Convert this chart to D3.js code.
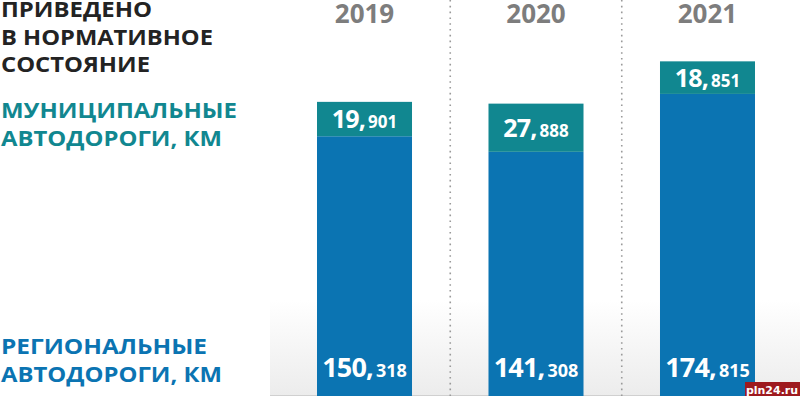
<!DOCTYPE html>
<html>
<head>
<meta charset="utf-8">
<script src="https://cdn.jsdelivr.net/npm/d3@7"></script>
<style>
  html, body { margin: 0; padding: 0; background: #fff; }
  svg { display: block; }
</style>
</head>
<body>
<script>
// data
var years = ["2019", "2020", "2021"];
var regional = [150.318, 141.308, 174.815];
var municipal = [19.901, 27.888, 18.851];

var titleLines = ["ПРИВЕДЕНО", "В НОРМАТИВНОЕ", "СОСТОЯНИЕ"];
var municipalLines = ["МУНИЦИПАЛЬНЫЕ", "АВТОДОРОГИ, КМ"];
var regionalLines = ["РЕГИОНАЛЬНЫЕ", "АВТОДОРОГИ, КМ"];

var w = 800;
var h = 396;

var blue = "#0b74b2";
var teal = "#118790";
var font = "'Open Sans', sans-serif";

var rows = years.map(function(y, i) {
  return { year: y, regional: regional[i], municipal: municipal[i] };
});

var svg = d3.select("body").append("svg")
  .attr("width", w)
  .attr("height", h);

var defs = svg.append("defs");
var grad = defs.append("linearGradient")
  .attr("id", "floor")
  .attr("x1", 0).attr("y1", 0).attr("x2", 0).attr("y2", 1);
grad.append("stop").attr("offset", "0%").attr("stop-color", "#ffffff");
grad.append("stop").attr("offset", "100%").attr("stop-color", "#ececec");

// faint floor under the bars
svg.append("rect")
  .attr("x", 270).attr("y", 300)
  .attr("width", w - 270).attr("height", h - 300)
  .attr("fill", "url(#floor)");
svg.append("line")
  .attr("x1", 270).attr("x2", w)
  .attr("y1", h - 0.5).attr("y2", h - 0.5)
  .attr("stroke", "#d0d0d0");

// scales
var xScale = d3.scaleBand()
  .domain(years)
  .range([317, 755])
  .paddingInner(0.446)
  .paddingOuter(0);

var yScale = d3.scaleLinear()
  .domain([0, 200])
  .range([h, h - 200 * 1.728]);

// dotted separators between years
var step = xScale.step();
svg.selectAll("line.sep")
  .data(years.slice(1))
  .enter()
  .append("line")
  .attr("class", "sep")
  .attr("x1", function(d) { return xScale(d) - (step - xScale.bandwidth()) / 2; })
  .attr("x2", function(d) { return xScale(d) - (step - xScale.bandwidth()) / 2; })
  .attr("y1", 0)
  .attr("y2", h)
  .attr("stroke", "#9a9a9a")
  .attr("stroke-width", 1.6)
  .attr("stroke-dasharray", "1.6,4.2");

// bars
svg.selectAll("rect.reg")
  .data(rows)
  .enter()
  .append("rect")
  .attr("class", "reg")
  .attr("x", function(d) { return xScale(d.year); })
  .attr("y", function(d) { return yScale(d.regional); })
  .attr("width", xScale.bandwidth())
  .attr("height", function(d) { return yScale(0) - yScale(d.regional); })
  .attr("fill", blue);

svg.selectAll("rect.mun")
  .data(rows)
  .enter()
  .append("rect")
  .attr("class", "mun")
  .attr("x", function(d) { return xScale(d.year); })
  .attr("y", function(d) { return yScale(d.regional + d.municipal); })
  .attr("width", xScale.bandwidth())
  .attr("height", function(d) { return yScale(d.regional) - yScale(d.regional + d.municipal); })
  .attr("fill", teal);

// years on top
svg.selectAll("text.year")
  .data(rows)
  .enter()
  .append("text")
  .attr("class", "year")
  .attr("x", function(d) { return xScale(d.year) + xScale.bandwidth() / 2; })
  .attr("y", 23)
  .attr("text-anchor", "middle")
  .attr("font-family", font)
  .attr("font-weight", 700)
  .attr("font-size", 26)
  .attr("fill", "#7d7d7d")
  .text(function(d) { return d.year; });

// value labels: big integer part + small decimals
function splitValue(v) {
  var s = d3.format(".3f")(v).split(".");
  return { big: s[0] + ",", small: s[1] };
}

function addValue(sel, getV, getY, bigSize, smallSize) {
  var t = sel.append("text")
    .attr("x", function(d) { return xScale(d.year) + xScale.bandwidth() / 2; })
    .attr("y", getY)
    .attr("text-anchor", "middle")
    .attr("font-family", font)
    .attr("font-weight", 700)
    .attr("fill", "#fff");
  t.append("tspan")
    .attr("font-size", bigSize)
    .attr("letter-spacing", -0.8)
    .text(function(d) { return splitValue(getV(d)).big; });
  t.append("tspan")
    .attr("font-size", smallSize)
    .attr("dx", 3)
    .text(function(d) { return splitValue(getV(d)).small; });
}

var munLabels = svg.selectAll("g.munlab").data(rows).enter().append("g").attr("class", "munlab");
addValue(munLabels,
  function(d) { return d.municipal; },
  function(d) { return (yScale(d.regional) + yScale(d.regional + d.municipal)) / 2 + 9; },
  25, 17);

var regLabels = svg.selectAll("g.reglab").data(rows).enter().append("g").attr("class", "reglab");
addValue(regLabels,
  function(d) { return d.regional; },
  function(d) { return yScale(0) - 19; },
  27, 18);

// left side captions (the original face is wider than Open Sans, so stretch to width)
function addLines(lines, y0, color, widths) {
  svg.selectAll(null)
    .data(lines)
    .enter()
    .append("text")
    .attr("x", 1)
    .attr("y", function(d, i) { return y0 + i * 27.5; })
    .attr("font-family", font)
    .attr("font-weight", 700)
    .attr("font-size", 20.5)
    .attr("fill", color)
    .attr("textLength", function(d, i) { return widths[i]; })
    .attr("lengthAdjust", "spacingAndGlyphs")
    .text(function(d) { return d; });
}

addLines(titleLines, 17, "#232323", [151, 212, 149]);
addLines(municipalLines, 118, teal, [236, 221]);
addLines(regionalLines, 354, blue, [206, 221]);

// watermark
svg.append("rect")
  .attr("x", 745).attr("y", 382)
  .attr("width", 55).attr("height", 14)
  .attr("fill", "#9e1a1f");
svg.append("text")
  .attr("x", 772).attr("y", 394)
  .attr("text-anchor", "middle")
  .attr("font-family", "'DejaVu Sans', sans-serif")
  .attr("font-weight", 700)
  .attr("font-size", 11)
  .attr("fill", "#fff")
  .text("pln24.ru");
</script>
</body>
</html>
